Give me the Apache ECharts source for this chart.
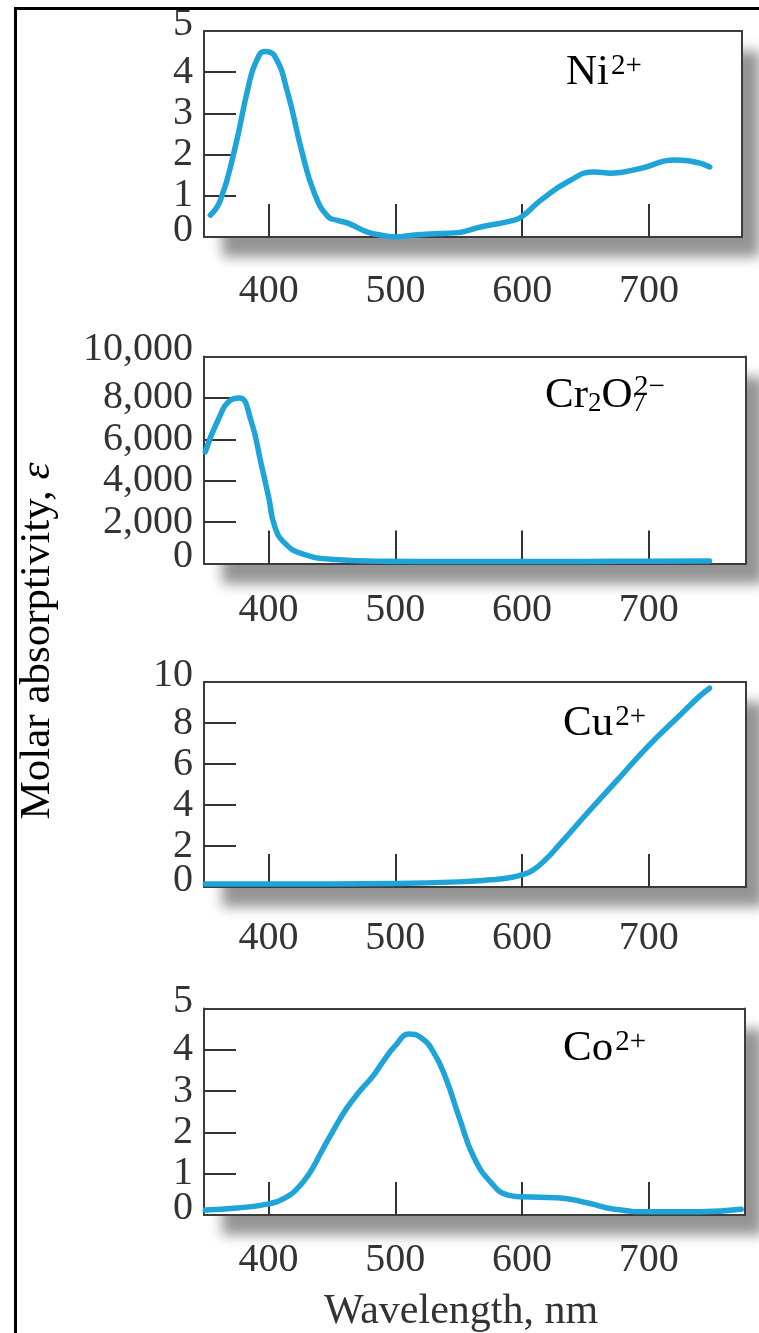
<!DOCTYPE html>
<html>
<head>
<meta charset="utf-8">
<title>Absorption spectra of Ni2+, Cr2O7 2-, Cu2+ and Co2+</title>
<script src="https://cdn.jsdelivr.net/npm/echarts@6/dist/echarts.min.js"></script>
<style>
  html, body { margin: 0; padding: 0; background: #fff; }
  #chart { width: 759px; height: 1333px; }
</style>
</head>
<body>
<div id="chart"></div>
<script>
// Wavelength ticks shared by every panel (nm)
const wavelengthTicks = [400, 500, 600, 700];

// Ni2+ spectrum: wavelength (nm) and molar absorptivity
const niWavelength = [354, 362, 373, 384, 390, 397, 405, 415, 426, 436, 447, 455, 463, 478, 490, 500, 515, 530, 547, 568, 594, 600, 615, 636, 657, 670, 694, 720, 731, 748];
const niAbsorptivity = [0.53, 0.9, 2.1, 3.65, 4.25, 4.5, 4.38, 3.5, 2.1, 1.07, 0.49, 0.4, 0.33, 0.12, 0.04, 0.0, 0.05, 0.08, 0.1, 0.25, 0.41, 0.5, 0.9, 1.34, 1.58, 1.55, 1.67, 1.87, 1.85, 1.7];

// Cr2O7 2- spectrum
const crWavelength = [350, 360, 370, 377, 386, 394, 400, 405, 413, 426, 452, 489, 550, 600, 650, 700, 748];
const crAbsorptivity = [5390, 6920, 7890, 8000, 6920, 4840, 3210, 1760, 970, 480, 190, 110, 100, 100, 100, 110, 120];

// Cu2+ spectrum
const cuWavelength = [350, 400, 450, 500, 550, 575, 590, 600, 608, 618, 630, 650, 675, 700, 725, 740, 748];
const cuAbsorptivity = [0.15, 0.15, 0.15, 0.17, 0.25, 0.35, 0.45, 0.6, 0.8, 1.3, 2.1, 3.5, 5.2, 6.9, 8.4, 9.3, 9.7];

// Co2+ spectrum
const coWavelength = [350, 375, 400, 412, 422, 432, 442, 452, 462, 472, 482, 490, 500, 511, 520, 530, 540, 550, 562, 576, 589, 600, 628, 652, 673, 700, 740, 773];
const coAbsorptivity = [0.12, 0.17, 0.27, 0.4, 0.62, 1.0, 1.55, 2.1, 2.6, 3.0, 3.35, 3.7, 4.1, 4.38, 4.3, 3.95, 3.3, 2.4, 1.4, 0.77, 0.48, 0.44, 0.42, 0.29, 0.14, 0.08, 0.08, 0.14];

// Vertical tick values per panel
const niTicks = [0, 1, 2, 3, 4, 5];
const crTicks = [0, 2000, 4000, 6000, 8000, 10000];
const cuTicks = [0, 2, 4, 6, 8, 10];
const coTicks = [0, 1, 2, 3, 4, 5];

const SERIF = '"Liberation Serif", "Times New Roman", serif';
const INK = '#333333';
const FRAME = '#3c3c3c';
const CURVE = '#1ea4d9';

function pairs(xs, ys) {
  return xs.map((x, i) => [x, ys[i]]);
}

function fmtNum(v) {
  return String(v).replace(/\B(?=(\d{3})+(?!\d))/g, ',');
}

const panels = [
  { top: 31,   height: 206, width: 538, max: 773.4, ticks: niTicks, data: pairs(niWavelength, niAbsorptivity), labelGap: 34 },
  { top: 356.5, height: 207, width: 542, max: 776.8, ticks: crTicks, data: pairs(crWavelength, crAbsorptivity), labelGap: 27 },
  { top: 682,  height: 205, width: 542, max: 776.8, ticks: cuTicks, data: pairs(cuWavelength, cuAbsorptivity), labelGap: 31 },
  { top: 1008.5, height: 206.5, width: 541, max: 776.0, ticks: coTicks, data: pairs(coWavelength, coAbsorptivity), labelGap: 25 }
];

const LEFT = 204;
const X_MIN = 349;

const grid = [], xAxis = [], yAxis = [], series = [];

const yLabelStyle = {
  margin: 11, fontFamily: SERIF, fontSize: 40, lineHeight: 14, color: INK,
  formatter: function (v) { return fmtNum(v); }
};

panels.forEach((p, i) => {
  const ticks = p.ticks;
  const yMax = ticks[ticks.length - 1];
  const inner = ticks.slice(1, -1);
  const ends = [ticks[0], yMax];

  // white plot area with a soft drop shadow; the frame is drawn by the axis lines
  grid.push({
    left: LEFT, top: p.top, width: p.width, height: p.height,
    show: true,
    backgroundColor: '#ffffff',
    borderWidth: 0,
    shadowColor: 'rgba(0,0,0,0.42)',
    shadowBlur: 12,
    shadowOffsetX: 18,
    shadowOffsetY: 20
  });
  xAxis.push({
    type: 'value', gridIndex: i, min: X_MIN, max: p.max, position: 'bottom',
    splitLine: { show: false },
    axisLine: { show: true, onZero: false, lineStyle: { color: FRAME, width: 2 } },
    axisTick: { show: true, inside: true, length: 33, customValues: wavelengthTicks,
      lineStyle: { color: INK, width: 2 } },
    axisLabel: { show: true, customValues: wavelengthTicks, margin: p.labelGap,
      fontFamily: SERIF, fontSize: 40, color: INK }
  });
  // top edge of the frame
  xAxis.push({
    type: 'value', gridIndex: i, min: X_MIN, max: p.max, position: 'top',
    splitLine: { show: false },
    axisLine: { show: true, onZero: false, lineStyle: { color: FRAME, width: 2 } },
    axisTick: { show: false }, axisLabel: { show: false }
  });
  // left axis: inward ticks and the inner labels
  yAxis.push({
    type: 'value', gridIndex: i, min: 0, max: yMax, position: 'left',
    splitLine: { show: false },
    axisLine: { show: true, onZero: false, lineStyle: { color: FRAME, width: 2 } },
    axisTick: { show: true, inside: true, length: 32, customValues: inner,
      lineStyle: { color: INK, width: 2 } },
    axisLabel: Object.assign({ show: true, customValues: inner }, yLabelStyle)
  });
  // right edge of the frame
  yAxis.push({
    type: 'value', gridIndex: i, min: 0, max: yMax, position: 'right',
    splitLine: { show: false },
    axisLine: { show: true, onZero: false, lineStyle: { color: FRAME, width: 2 } },
    axisTick: { show: false }, axisLabel: { show: false }
  });
  // end labels (0 and the top value), nudged up off the frame corners
  yAxis.push({
    type: 'value', gridIndex: i, min: 0, max: yMax, position: 'left',
    splitLine: { show: false },
    axisLine: { show: false }, axisTick: { show: false },
    axisLabel: Object.assign({
      show: true, customValues: ends, showMinLabel: true, showMaxLabel: true,
      verticalAlignMinLabel: 'bottom', verticalAlignMaxLabel: 'bottom'
    }, yLabelStyle)
  });
  series.push({
    type: 'line', xAxisIndex: 2 * i, yAxisIndex: 3 * i,
    data: p.data, smooth: 0.5, showSymbol: false, symbol: 'none',
    lineStyle: { color: CURVE, width: 5.5, cap: 'round', join: 'round' },
    z: 3
  });
});

const baseText = { fontFamily: SERIF, fontSize: 43, color: INK, lineHeight: 43 };
const supText = { fontFamily: SERIF, fontSize: 29, color: INK, lineHeight: 26, verticalAlign: 'top', padding: [0, 0, 0, 2] };
const subText = { fontFamily: SERIF, fontSize: 27, color: INK, lineHeight: 6, verticalAlign: 'bottom' };

function ionLabel(x, y, rich) {
  return {
    type: 'text', x: x, y: y, z: 10,
    style: { text: rich, align: 'left', verticalAlign: 'middle',
      rich: { n: baseText, p: supText, s: subText } }
  };
}

const graphic = [
  // outer frame
  { type: 'polyline', z: 20, shape: { points: [[15.5, 1333], [15.5, 8.5], [759, 8.5]] },
    style: { stroke: '#000', lineWidth: 3, fill: null } },
  ionLabel(566, 73, '{n|Ni}{p|2+}'),
  ionLabel(545, 396, '{n|Cr}{s|2}{n|O}{s|7}'),
  ionLabel(632, 386, '{p|2−}'),
  ionLabel(563, 724, '{n|Cu}{p|2+}'),
  ionLabel(563, 1049, '{n|Co}{p|2+}'),
  {
    type: 'text', x: 38, y: 641, rotation: Math.PI / 2, z: 10,
    style: {
      text: '{a|Molar absorptivity, }{e|ε}', align: 'center', verticalAlign: 'middle',
      rich: {
        a: { fontFamily: SERIF, fontSize: 43, color: INK },
        e: { fontFamily: SERIF, fontSize: 43, color: INK, fontStyle: 'italic' }
      }
    }
  },
  {
    type: 'text', x: 461, y: 1312, z: 10,
    style: { text: 'Wavelength, nm', align: 'center', verticalAlign: 'middle',
      fontFamily: SERIF, fontSize: 42, fill: INK }
  }
];

const chart = echarts.init(document.getElementById('chart'), null, { renderer: 'canvas' });
chart.setOption({
  animation: false,
  backgroundColor: '#ffffff',
  grid: grid,
  xAxis: xAxis,
  yAxis: yAxis,
  series: series,
  graphic: graphic
});
</script>
</body>
</html>
